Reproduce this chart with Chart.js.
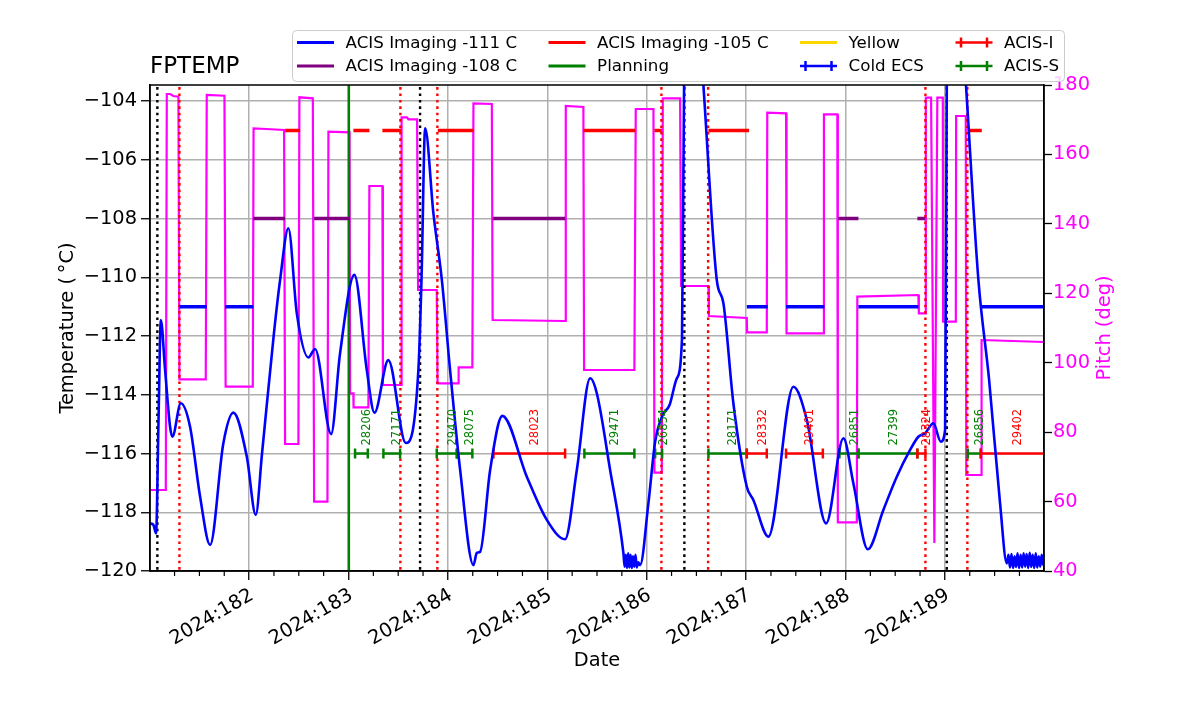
<!DOCTYPE html>
<html><head><meta charset="utf-8">
<script src="https://cdn.jsdelivr.net/npm/chart.js@4.4.1/dist/chart.umd.min.js"></script>
<style>html,body{margin:0;padding:0;background:#fff;}canvas{display:block;}</style>
</head><body>
<canvas id="c" width="1200" height="714"></canvas>
<script>
// ---------- DATA (time = day of year 2024) ----------
const tempTime = [181.004,181.037,181.064,181.088,181.112,181.155,181.205,181.228,181.313,181.406,
181.507,181.608,181.741,181.842,181.977,182.067,182.130,182.250,182.312,182.395,
182.480,182.597,182.664,182.825,182.915,183.059,183.184,183.261,183.401,183.576,
183.703,183.735,183.771,183.854,183.939,184.022,184.123,184.257,184.291,184.324,
184.425,184.548,184.794,184.995,185.179,185.297,185.431,185.498,185.632,185.766,
185.778,185.790,185.802,185.814,185.826,185.838,185.850,185.862,185.875,185.887,
185.900,185.915,185.934,186.017,186.085,186.160,186.230,186.303,186.355,186.376,
186.427,186.577,186.705,186.772,186.872,187.007,187.073,187.224,187.476,187.611,
187.805,187.979,188.079,188.224,188.381,188.516,188.650,188.733,188.801,188.884,
188.959,189.002,189.019,189.062,189.213,189.337,189.445,189.555,189.623,189.640,
189.655,189.670,189.686,189.701,189.716,189.731,189.746,189.762,189.777,189.792,
189.807,189.822,189.838,189.853,189.868,189.883,189.898,189.914,189.929,189.944,
189.959,189.974,189.990,189.997];
const tempValue = [-118.38,-118.43,-118.72,-115.0,-111.46,-113.16,-115.09,-115.43,-114.29,-115.09,
-117.47,-119.11,-115.65,-114.61,-116.11,-118.09,-116.0,-111.9,-110.09,-108.33,
-111.23,-112.73,-112.44,-115.34,-112.59,-109.92,-113.16,-114.61,-112.82,-115.64,
-113.16,-110.0,-104.93,-107.82,-110.09,-113.16,-116.56,-119.80,-119.38,-119.35,
-116.56,-114.72,-116.79,-118.26,-118.92,-116.56,-113.44,-113.95,-116.56,-119.40,
-119.85,-119.45,-119.90,-119.40,-119.88,-119.45,-119.90,-119.50,-119.85,-119.45,
-119.88,-119.70,-119.80,-117.70,-115.60,-114.70,-114.35,-113.44,-112.10,-103.46,
-96.0,-103.8,-110.09,-110.89,-114.29,-117.13,-117.58,-118.83,-113.73,-114.86,
-118.38,-115.48,-117.01,-119.26,-117.92,-116.79,-115.88,-115.43,-115.31,-114.97,
-115.60,-115.20,-103.46,-95.5,-103.5,-110.09,-113.5,-117.70,-119.74,-119.45,
-119.88,-119.42,-119.90,-119.50,-119.86,-119.40,-119.90,-119.45,-119.88,-119.40,
-119.85,-119.42,-119.90,-119.38,-119.86,-119.45,-119.90,-119.40,-119.88,-119.50,
-119.85,-119.45,-119.80,-119.70];

const pitchTime = [181.004,181.162,181.172,181.205,181.238,181.289,181.299,181.564,181.574,181.752,181.764,182.037,182.045,182.171,182.352,182.362,182.496,182.506,182.641,182.654,182.788,182.798,183.011,183.016,183.049,183.051,183.200,183.210,183.341,183.346,183.529,183.534,183.587,183.603,183.690,183.700,183.888,183.896,184.106,184.108,184.246,184.257,184.442,184.450,185.179,185.186,185.363,185.370,185.876,185.890,186.068,186.078,186.152,186.162,186.336,186.346,186.621,186.626,187.007,187.010,187.208,187.213,187.402,187.407,187.778,187.783,187.918,187.923,188.114,188.119,188.733,188.738,188.803,188.808,188.861,188.894,188.924,188.979,188.982,189.110,189.113,189.210,189.215,189.364,189.369,189.997];
const pitchValue = [63.33,63.33,177.41,177.41,176.83,176.63,95.22,95.22,177.12,176.92,93.09,93.09,167.53,167.33,167.04,76.58,76.58,176.46,176.17,59.96,59.96,166.55,166.37,91.19,91.19,87.15,87.15,150.90,150.90,93.58,93.58,170.70,170.70,170.12,170.12,120.95,120.95,94.07,94.07,98.68,98.68,174.73,174.53,112.30,112.02,173.95,173.66,97.90,97.90,173.09,173.09,68.32,68.32,176.17,176.17,122.10,122.10,113.46,112.90,108.76,108.76,172.02,171.85,108.47,108.47,171.56,171.56,54.03,54.03,119.02,119.50,114.23,114.23,176.34,176.34,48.06,176.34,176.34,111.81,111.81,171.07,171.07,67.66,67.66,106.54,105.97];

const lim111Start = [181.299,181.759,187.007,187.402,188.130,189.361];
const lim111End   = [181.574,182.043,187.218,187.788,188.733,189.997];
const lim108Start = [182.043,182.654,184.452,187.928,188.723];
const lim108End   = [182.362,183.016,185.179,188.130,188.801];
const lim105Start = [182.362,183.049,183.341,183.898,184.105,185.363,186.078,186.621,189.230];
const lim105End   = [182.513,183.210,183.529,184.105,184.256,185.883,186.152,187.030,189.371];

const obsId    = ['28206','27171','29470','28075','28023','29471','26854','28171','28332','29401','26851','27399','28324','26856','29402'];
const obsStart = [183.066,183.351,183.888,184.090,184.458,185.373,186.085,186.621,187.007,187.402,187.939,188.130,188.723,189.230,189.361];
const obsEnd   = [183.194,183.519,184.090,184.246,185.179,185.876,186.155,187.007,187.208,187.772,188.130,188.723,188.804,189.361,190.0];
const obsInstr = ['S','S','S','S','I','S','S','S','I','I','S','S','I','S','I'];
const obsLevel = -116;

const radTimes     = [181.299,183.522,183.894,186.148,186.618,188.804,189.226];
const perigeeTimes = [181.077,183.720,186.379,189.019];
const planningTimes = [183.003];

const xTickDays = [182,183,184,185,186,187,188,189];
const yTicks = [-120,-118,-116,-114,-112,-110,-108,-106,-104];
const pitchTicks = [40,60,80,100,120,140,160,180];

// ---------- helpers ----------
const pts = (xs, ys) => xs.map((v, i) => ({x: v, y: ys[i]}));
function segs(starts, ends, level) {
  const out = [];
  starts.forEach((s, i) => { out.push({x: s, y: level}, {x: ends[i], y: level}, {x: ends[i], y: null}); });
  return out;
}
function vlines(times) {
  const out = [];
  times.forEach(t => { out.push({x: t, y: -140}, {x: t, y: -80}, {x: t, y: null}); });
  return out;
}
const idxI = obsInstr.map((v, i) => v === 'I' ? i : -1).filter(i => i >= 0);
const idxS = obsInstr.map((v, i) => v === 'S' ? i : -1).filter(i => i >= 0);

const BLUE = '#0000ff', PURPLE = '#800080', RED = '#ff0000', GREEN = '#008000', GOLD = '#ffd700', MAG = '#ff00ff';
const base = {pointRadius: 0, fill: false, tension: 0, spanGaps: false, borderCapStyle: 'butt'};
const errStyle = c => ({...base, borderColor: c, backgroundColor: c, borderWidth: 2.5, pointRadius: 5, pointHoverRadius: 5,
  pointStyle: 'line', rotation: 90, pointBorderWidth: 2.5, pointBorderColor: c, isErrorbar: true});

const datasets = [
  {...base, label: 'FPTEMP', data: pts(tempTime, tempValue), borderColor: BLUE, borderWidth: 2.6, cubicInterpolationMode: 'monotone', yAxisID: 'y'},
  {...errStyle(RED), label: 'ACIS-I', data: segs(idxI.map(i => obsStart[i]), idxI.map(i => obsEnd[i]), obsLevel), yAxisID: 'y'},
  {...errStyle(GREEN), label: 'ACIS-S', data: segs(idxS.map(i => obsStart[i]), idxS.map(i => obsEnd[i]), obsLevel), yAxisID: 'y'},
  {...errStyle(BLUE), label: 'Cold ECS', data: [], yAxisID: 'y'},
  {...base, label: 'ACIS Imaging -111 C', data: segs(lim111Start, lim111End, -111), borderColor: BLUE, borderWidth: 3.5, yAxisID: 'y'},
  {...base, label: 'ACIS Imaging -108 C', data: segs(lim108Start, lim108End, -108), borderColor: PURPLE, borderWidth: 3.5, yAxisID: 'y'},
  {...base, label: 'ACIS Imaging -105 C', data: segs(lim105Start, lim105End, -105), borderColor: RED, borderWidth: 3.5, yAxisID: 'y'},
  {...base, label: 'Yellow', data: [], borderColor: GOLD, borderWidth: 3, yAxisID: 'y'},
  {...base, label: 'Planning', data: vlines(planningTimes), borderColor: GREEN, borderWidth: 2.6, yAxisID: 'y'},
  {...base, label: 'perigee', data: vlines(perigeeTimes), borderColor: '#000000', borderWidth: 2.4, borderDash: [2.6, 3.8], yAxisID: 'y'},
  {...base, label: 'radzone', data: vlines(radTimes), borderColor: RED, borderWidth: 2.4, borderDash: [2.6, 3.8], yAxisID: 'y'},
  {...base, label: 'Pitch', data: pts(pitchTime, pitchValue), borderColor: MAG, borderWidth: 2.2, yAxisID: 'y2'}
];

const FONT = "'DejaVu Sans', sans-serif";
Chart.defaults.font.family = FONT;
Chart.defaults.color = '#000';
const isMajor = v => Math.abs(v - Math.round(v)) < 1e-6;
const minus = v => (v < 0 ? '\u2212' : '') + Math.abs(v);

const legendOrder = ['ACIS Imaging -111 C','ACIS Imaging -108 C','ACIS Imaging -105 C','Planning','Yellow','Cold ECS','ACIS-I','ACIS-S'];

const overlay = {
  id: 'overlay',
  afterDatasetsDraw(chart) {
    const {ctx, chartArea: a, scales} = chart;
    const xs = scales.x, ys = scales.y;
    ctx.save();
    // minor x ticks
    ctx.strokeStyle = '#000'; ctx.lineWidth = 1.2;
    xs.ticks.forEach(t => {
      if (!isMajor(t.value)) {
        const px = xs.getPixelForValue(t.value);
        ctx.beginPath(); ctx.moveTo(px, a.bottom); ctx.lineTo(px, a.bottom + 5); ctx.stroke();
      }
    });
    // obsid labels
    ctx.font = '11.5px ' + FONT;
    ctx.textAlign = 'left'; ctx.textBaseline = 'top';
    const yl = ys.getPixelForValue(obsLevel) - 8;
    obsId.forEach((id, i) => {
      const mid = (xs.getPixelForValue(obsStart[i]) + xs.getPixelForValue(obsEnd[i])) / 2;
      ctx.save();
      ctx.translate(mid, yl); ctx.rotate(-Math.PI / 2);
      ctx.fillStyle = obsInstr[i] === 'I' ? RED : GREEN;
      ctx.fillText(id, 0, 0);
      ctx.restore();
    });
    // frame
    ctx.strokeStyle = '#000'; ctx.lineWidth = 1.5;
    ctx.strokeRect(a.left, a.top, a.right - a.left, a.bottom - a.top);
    ctx.restore();
  },
  afterDraw(chart) {
    const {ctx, chartArea: a} = chart;
    ctx.save();
    // title
    ctx.fillStyle = '#000'; ctx.font = '23px ' + FONT;
    ctx.textAlign = 'left'; ctx.textBaseline = 'alphabetic';
    ctx.fillText('FPTEMP', a.left, 72.5);
    // right axis title
    ctx.save();
    ctx.translate(1105, (a.top + a.bottom) / 2); ctx.rotate(-Math.PI / 2);
    ctx.fillStyle = MAG; ctx.font = '19.4px ' + FONT; ctx.textAlign = 'center'; ctx.textBaseline = 'middle';
    ctx.fillText('Pitch (deg)', 0, 0);
    ctx.restore();
    // legend
    const bx = 292.5, by = 30.5, bw = 772, bh = 51, r = 4;
    ctx.beginPath();
    ctx.moveTo(bx + r, by); ctx.lineTo(bx + bw - r, by); ctx.quadraticCurveTo(bx + bw, by, bx + bw, by + r);
    ctx.lineTo(bx + bw, by + bh - r); ctx.quadraticCurveTo(bx + bw, by + bh, bx + bw - r, by + bh);
    ctx.lineTo(bx + r, by + bh); ctx.quadraticCurveTo(bx, by + bh, bx, by + bh - r);
    ctx.lineTo(bx, by + r); ctx.quadraticCurveTo(bx, by, bx + r, by); ctx.closePath();
    ctx.fillStyle = 'rgba(255,255,255,0.8)'; ctx.fill();
    ctx.strokeStyle = '#cccccc'; ctx.lineWidth = 1; ctx.stroke();
    const colX = [297, 548.5, 800, 955.5], lineY = [42.5, 66], textY = [43.8, 67];
    ctx.font = '16.7px ' + FONT; ctx.textAlign = 'left'; ctx.textBaseline = 'middle';
    legendOrder.forEach((lab, i) => {
      const ds = chart.data.datasets.find(d => d.label === lab);
      const col = Math.floor(i / 2), row = i % 2;
      const hx = colX[col], hy = lineY[row];
      ctx.strokeStyle = ds.borderColor; ctx.lineCap = 'butt';
      ctx.lineWidth = ds.isErrorbar ? 2.5 : 3;
      ctx.beginPath(); ctx.moveTo(hx, hy); ctx.lineTo(hx + 37, hy); ctx.stroke();
      if (ds.isErrorbar) {
        [hx + 5.5, hx + 31.5].forEach(cx => { ctx.beginPath(); ctx.moveTo(cx, hy - 5); ctx.lineTo(cx, hy + 5); ctx.stroke(); });
      }
      ctx.fillStyle = '#000';
      ctx.fillText(lab, hx + 48.6, textY[row]);
    });
    ctx.restore();
  }
};

new Chart(document.getElementById('c'), {
  type: 'line',
  data: {datasets},
  plugins: [overlay],
  options: {
    responsive: false, animation: false, devicePixelRatio: 1,
    layout: {padding: {top: 85, left: 0, right: 0, bottom: 0}},
    plugins: {legend: {display: false}, tooltip: {enabled: false}, title: {display: false}},
    scales: {
      x: {
        type: 'linear', position: 'bottom', min: 181.003, max: 189.997,
        afterBuildTicks: s => { const t = []; for (let k = 1; k <= 35; k++) t.push({value: 181 + k * 0.25}); s.ticks = t; },
        afterFit: s => { s.height = 143; },
        ticks: {autoSkip: false, minRotation: 30, maxRotation: 30, padding: 4, labelOffset: 3, color: '#000', font: {size: 19.4},
          callback: v => isMajor(v) && xTickDays.includes(Math.round(v)) ? '2024:' + Math.round(v) : ''},
        grid: {color: c => (c.tick && isMajor(c.tick.value)) ? '#b0b0b0' : 'rgba(0,0,0,0)', lineWidth: 1.5,
          tickColor: c => (c.tick && isMajor(c.tick.value)) ? '#000' : 'rgba(0,0,0,0)', tickLength: 9, tickWidth: 1.3},
        border: {color: '#000', width: 1.5},
        title: {display: true, text: 'Date', font: {size: 19.4}, color: '#000', padding: {top: 0, bottom: 41.4}}
      },
      y: {
        type: 'linear', position: 'left', min: -120, max: -103.455,
        afterBuildTicks: s => { s.ticks = yTicks.map(v => ({value: v})); },
        afterFit: s => { s.width = 150; },
        ticks: {padding: 4, color: '#000', font: {size: 19.4}, callback: v => minus(v)},
        grid: {color: '#b0b0b0', lineWidth: 1.5, tickColor: '#000', tickLength: 9, tickWidth: 1.3},
        border: {color: '#000', width: 1.5},
        title: {display: true, text: 'Temperature (\u2009\u00b0C)', font: {size: 19.4}, color: '#000', padding: {top: 56.4, bottom: 0}}
      },
      y2: {
        type: 'linear', position: 'right', min: 40, max: 180,
        afterBuildTicks: s => { s.ticks = pitchTicks.map(v => ({value: v})); },
        afterFit: s => { s.width = 156; },
        ticks: {padding: 1, color: MAG, font: {size: 19.4}},
        grid: {drawOnChartArea: false, tickColor: '#000', tickLength: 8, tickWidth: 1.3},
        border: {color: '#000', width: 1.5}
      }
    }
  }
});
</script>
</body></html>
